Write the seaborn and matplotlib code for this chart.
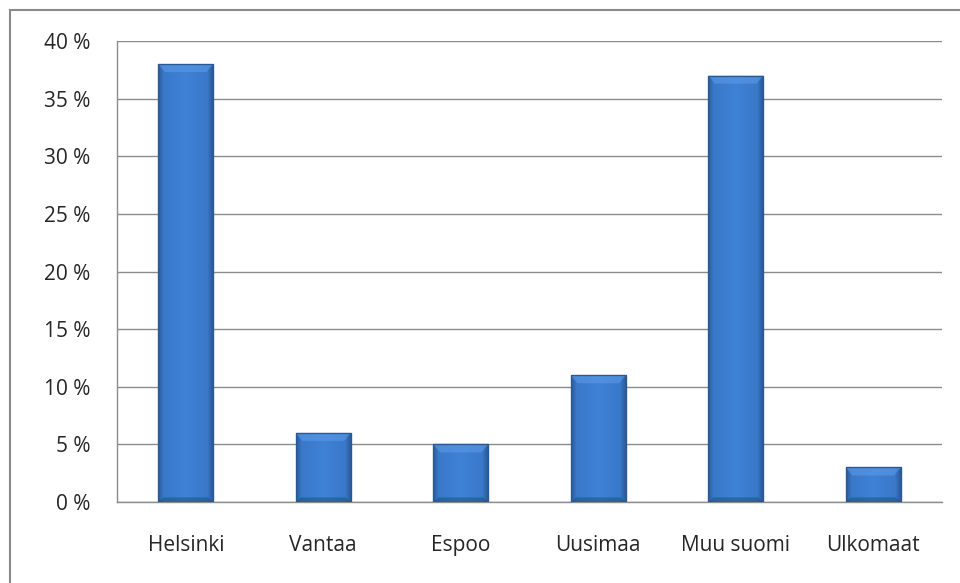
import numpy as np
import pandas as pd
import matplotlib
matplotlib.use("Agg")
import matplotlib.pyplot as plt
import seaborn as sns
from matplotlib.patches import Rectangle, Polygon
from matplotlib.colors import LinearSegmentedColormap

categories = ["Helsinki", "Vantaa", "Espoo", "Uusimaa", "Muu suomi", "Ulkomaat"]
shares = [38, 6, 5, 11, 37, 3]
y_ticks = [0, 5, 10, 15, 20, 25, 30, 35, 40]

df = pd.DataFrame({"alue": categories, "osuus": shares})

sns.set_style("white")
plt.rcParams["font.family"] = ["Open Sans", "DejaVu Sans"]

fig = plt.figure(figsize=(9.6, 5.83), dpi=100)
ax = fig.add_axes([117 / 960, 81 / 583, 825 / 960, 461 / 583])

# outer chart frame (partly cut off at right/bottom like the original)
fig.patches.append(Rectangle((10 / 960, -0.05), 1.0, (583 - 10) / 583 + 0.05,
                             transform=fig.transFigure, fill=False,
                             edgecolor="#8a8a8a", lw=1.5))

sns.barplot(data=df, x="alue", y="osuus", color="#3c7cce", width=0.4,
            edgecolor="#2d5f9e", linewidth=0.8, saturation=1, ax=ax, zorder=3)

# bevel-ish gradient on each bar
grad_cmap = LinearSegmentedColormap.from_list(
    "bar", [(0, "#2b5a98"), (0.1, "#3a78c9"), (0.5, "#3f82d6"),
            (0.9, "#3a78c9"), (1, "#2b5a98")])
gx = np.linspace(0, 1, 200)[None, :]
for p in ax.patches:
    x0, w, h = p.get_x(), p.get_width(), p.get_height()
    im = ax.imshow(gx, cmap=grad_cmap, aspect="auto", zorder=4,
                   extent=[x0, x0 + w, 0, h], interpolation="bicubic")
    im.set_clip_path(p)
    # lighter bevelled top cap
    cap = 0.7
    ax.add_patch(Polygon([[x0, h], [x0 + w, h], [x0 + w * 0.88, h - cap],
                          [x0 + w * 0.12, h - cap]], closed=True,
                         facecolor="#5b9ae6", alpha=0.6, lw=0, zorder=5))
    # darker bevelled bottom
    ax.add_patch(Polygon([[x0, 0], [x0 + w, 0], [x0 + w * 0.9, 0.4],
                          [x0 + w * 0.1, 0.4]], closed=True,
                         facecolor="#214a80", alpha=0.5, lw=0, zorder=5))
    ax.add_patch(Rectangle((x0, 0), w, h, fill=False, edgecolor="#2a5893",
                           lw=0.9, zorder=6))

ax.set_xlim(-0.5, len(categories) - 0.5)
ax.set_ylim(0, 40)
ax.set_yticks(y_ticks)
ax.set_yticklabels([f"{v} %" for v in y_ticks])
ax.yaxis.grid(True, color="#8c8c8c", lw=1)
ax.set_axisbelow(True)
ax.set_xlabel("")
ax.set_ylabel("")

for s in ["top", "right"]:
    ax.spines[s].set_visible(False)
for s in ["left", "bottom"]:
    ax.spines[s].set_color("#8c8c8c")
    ax.spines[s].set_linewidth(1)

ax.set_xticks(np.arange(-0.5, len(categories)), minor=True)
ax.tick_params(axis="x", which="major", length=0, pad=24, labelsize=15,
               labelcolor="#262626")
ax.tick_params(axis="x", which="minor", length=7, width=1, color="#8c8c8c",
               direction="out")
ax.tick_params(axis="y", length=7, width=1, color="#8c8c8c", direction="out",
               pad=12, labelsize=15, labelcolor="#262626")

fig.savefig("out.png", dpi=100)
